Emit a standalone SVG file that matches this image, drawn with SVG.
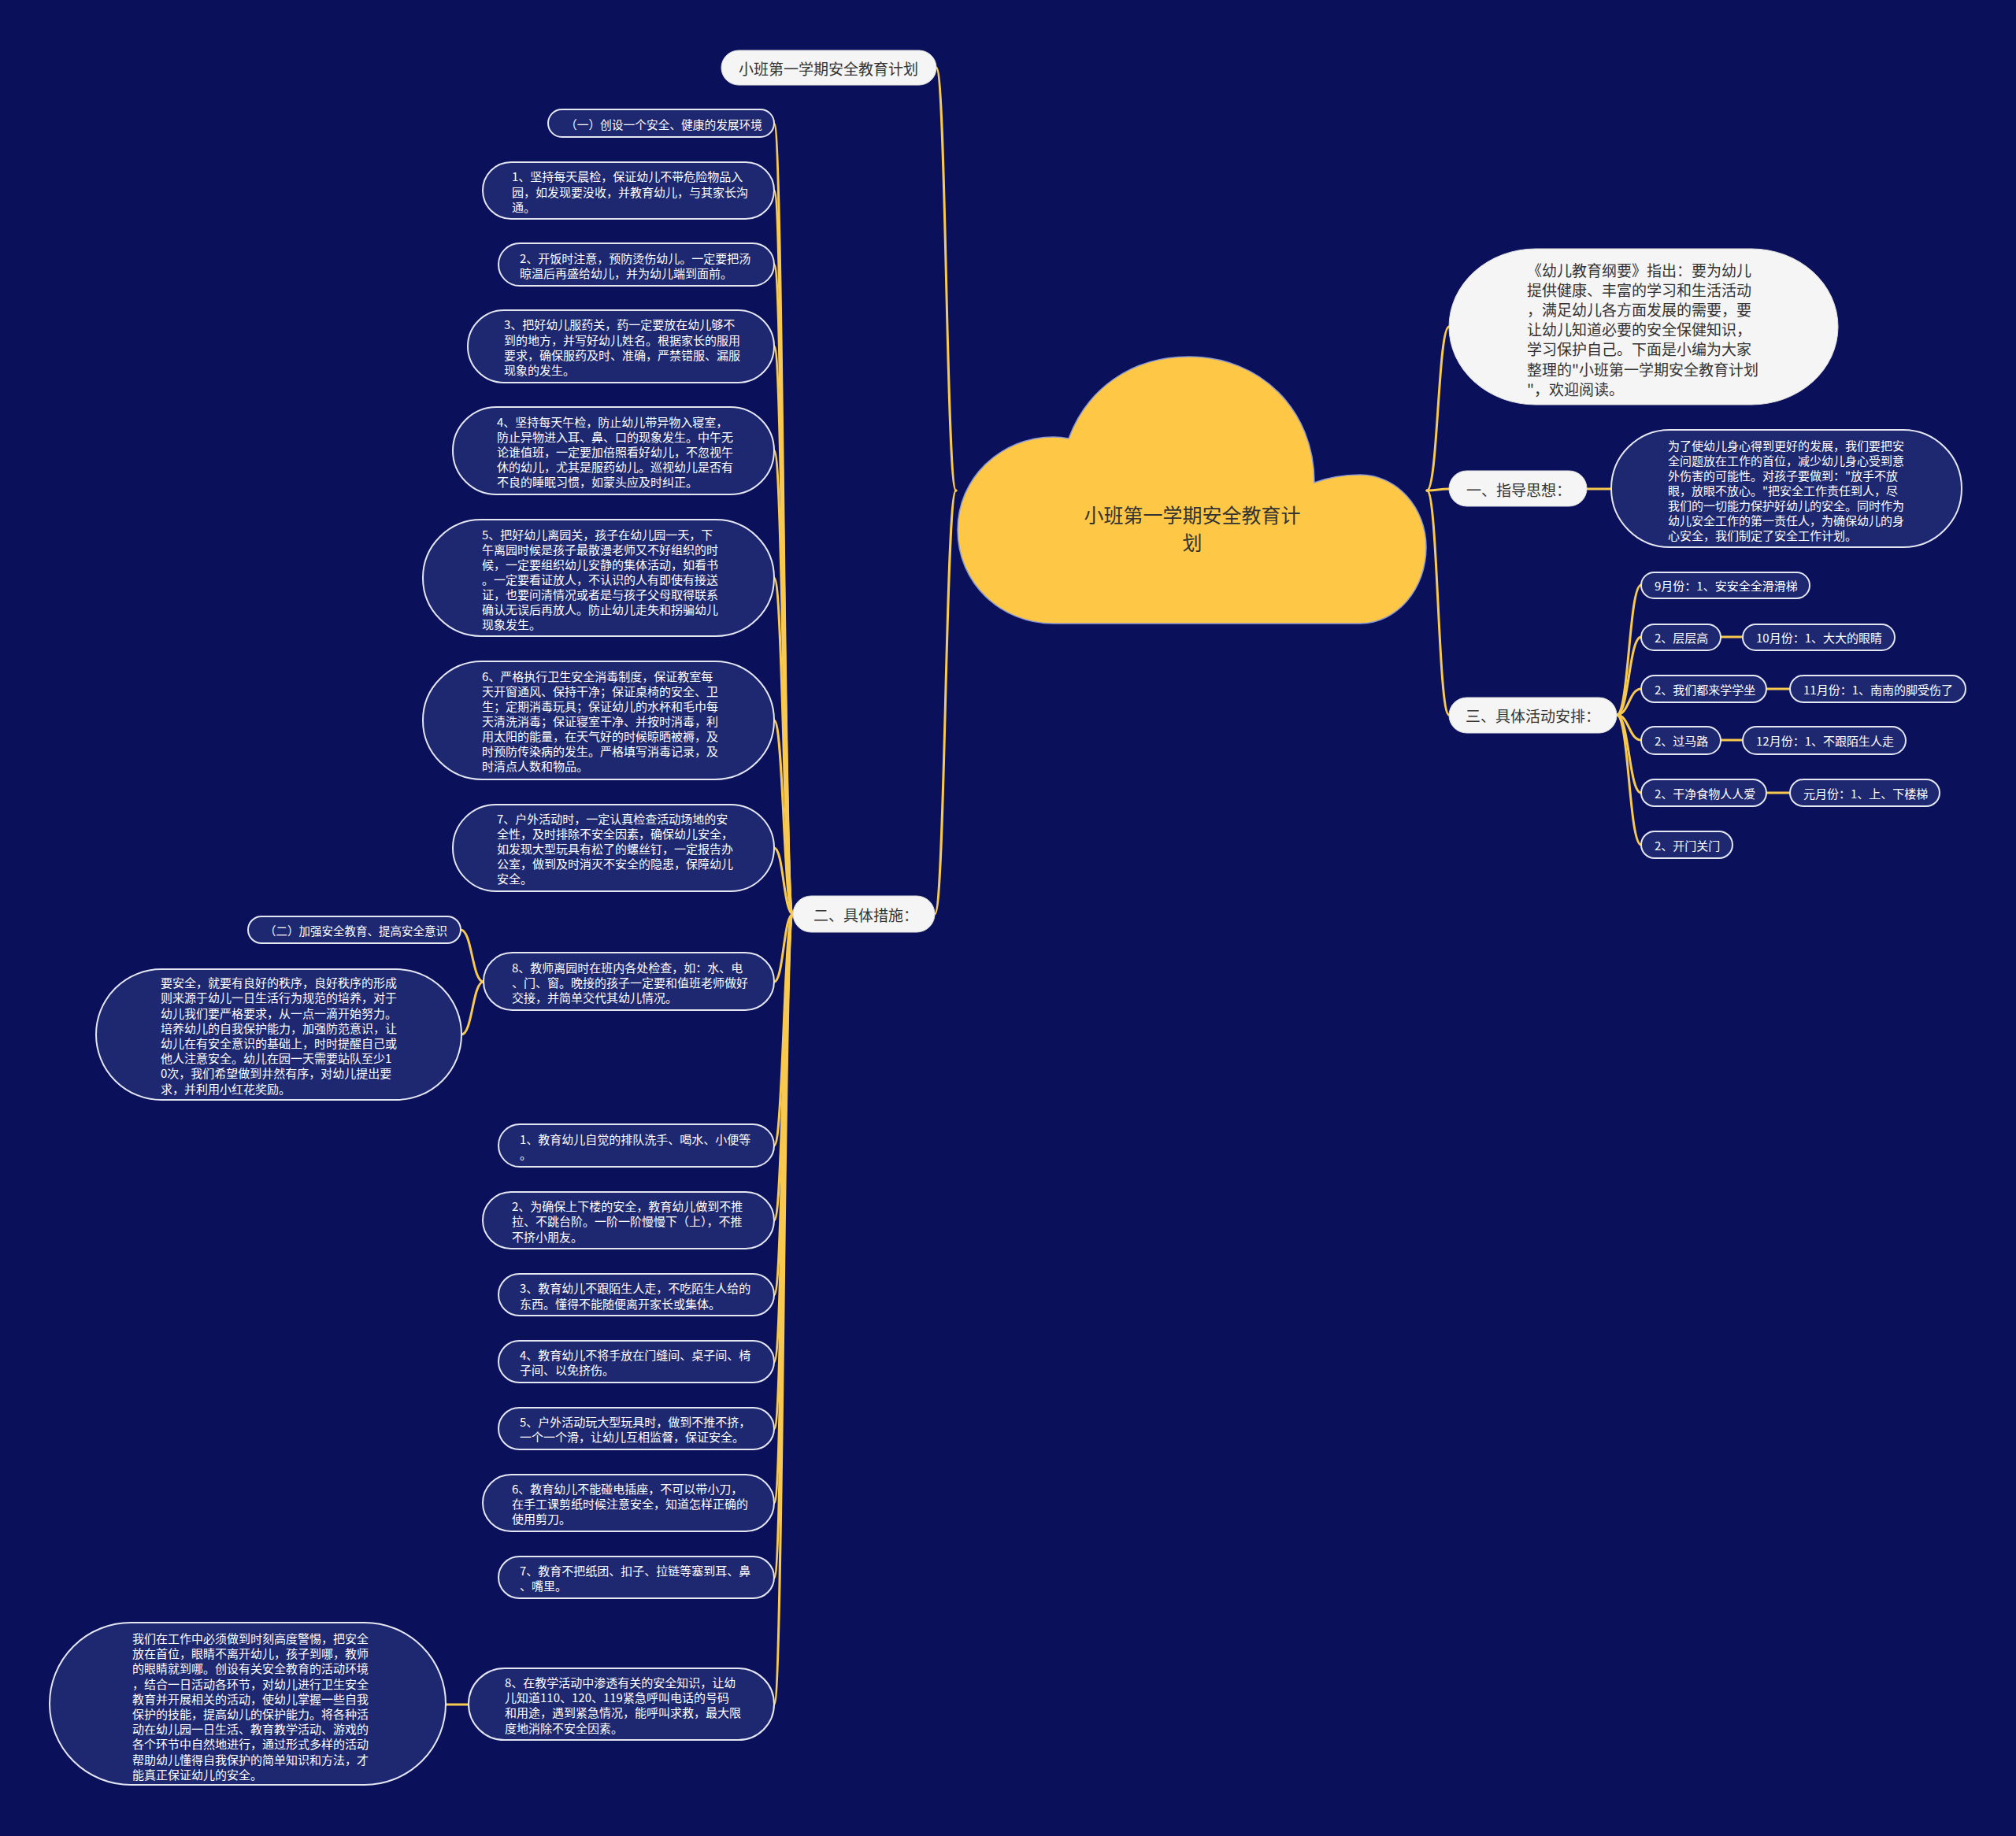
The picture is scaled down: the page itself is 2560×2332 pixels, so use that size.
<svg xmlns="http://www.w3.org/2000/svg" width="2560" height="2332" viewBox="0 0 2560 2332">
<style>
.bg{fill:#0A105A}
.dk{fill:#1E2870;stroke:#E4E6F2;stroke-width:2}
.lt{fill:#F5F5F5;stroke:#E0E0E0;stroke-width:1}
.tw{fill:#FFFFFF;font-size:15px;font-family:"Noto Sans CJK SC","Liberation Sans",sans-serif;dominant-baseline:central}
.tb{fill:#333333;font-size:19px;font-family:"Noto Sans CJK SC","Liberation Sans",sans-serif;dominant-baseline:central}
.tc{fill:#333333;font-size:25px;font-family:"Noto Sans CJK SC","Liberation Sans",sans-serif;dominant-baseline:central;text-anchor:middle}
.cn{fill:none;stroke:#F8C94F;stroke-width:3;stroke-linecap:round}
</style>
<rect class="bg" x="0" y="0" width="2560" height="2332"/>

<g id="connectors">
<path class="cn" d="M1214 623 C1201.5 623 1201.5 86 1189 86"/>
<path class="cn" d="M1214 623 C1200.5 623 1200.5 1161 1187 1161"/>
<path class="cn" d="M1007 1161 C995 1161 995 157 983 157"/>
<path class="cn" d="M1007 1161 C995 1161 995 242 983 242"/>
<path class="cn" d="M1007 1161 C995 1161 995 336 983 336"/>
<path class="cn" d="M1007 1161 C995 1161 995 440 983 440"/>
<path class="cn" d="M1007 1161 C995 1161 995 572 983 572"/>
<path class="cn" d="M1007 1161 C995 1161 995 734 983 734"/>
<path class="cn" d="M1007 1161 C995 1161 995 915 983 915"/>
<path class="cn" d="M1007 1161 C995 1161 995 1077 983 1077"/>
<path class="cn" d="M1007 1161 C995 1161 995 1247 983 1247"/>
<path class="cn" d="M1007 1161 C995 1161 995 1455 983 1455"/>
<path class="cn" d="M1007 1161 C995 1161 995 1550 983 1550"/>
<path class="cn" d="M1007 1161 C995 1161 995 1645 983 1645"/>
<path class="cn" d="M1007 1161 C995 1161 995 1730 983 1730"/>
<path class="cn" d="M1007 1161 C995 1161 995 1815 983 1815"/>
<path class="cn" d="M1007 1161 C995 1161 995 1909 983 1909"/>
<path class="cn" d="M1007 1161 C995 1161 995 2004 983 2004"/>
<path class="cn" d="M1007 1161 C995 1161 995 2165 983 2165"/>
<path class="cn" d="M614 1247 C599.5 1247 599.5 1181 585 1181"/>
<path class="cn" d="M614 1247 C600 1247 600 1314 586 1314"/>
<path class="cn" d="M595 2165 L566 2165"/>
<path class="cn" d="M1812 623 C1826 623 1826 415 1840 415"/>
<path class="cn" d="M1812 623 C1826 623 1826 621 1840 621"/>
<path class="cn" d="M1812 623 C1826 623 1826 908 1840 908"/>
<path class="cn" d="M2015 621 L2046 621"/>
<path class="cn" d="M2053 908 C2068.5 908 2068.5 743 2084 743"/>
<path class="cn" d="M2053 908 C2068.5 908 2068.5 809 2084 809"/>
<path class="cn" d="M2053 908 C2068.5 908 2068.5 875 2084 875"/>
<path class="cn" d="M2053 908 C2068.5 908 2068.5 940 2084 940"/>
<path class="cn" d="M2053 908 C2068.5 908 2068.5 1007 2084 1007"/>
<path class="cn" d="M2053 908 C2068.5 908 2068.5 1073 2084 1073"/>
<path class="cn" d="M2185 809 L2213 809"/>
<path class="cn" d="M2243 875 L2273 875"/>
<path class="cn" d="M2185 940 L2213 940"/>
<path class="cn" d="M2243 1007 L2273 1007"/>
</g>

<g id="root">
<path d="M1338 792 C1270 792 1216 740 1216 673 C1216 608 1270 555 1338 555 C1345 555 1352 556 1357 557 C1380 495 1435 453 1510 453 C1600 453 1669 520 1669 613 C1688 606 1707 603 1727 603 C1774 603 1811 645 1811 695 C1811 748 1774 792 1727 792 Z" fill="#FEC746" stroke="#8C9AD0" stroke-width="1.5"/>
<text class="tc"><tspan x="1514" y="653">小班第一学期安全教育计</tspan><tspan x="1514" y="688">划</tspan></text>
</g>

<g id="n-title">
<rect class="lt" x="916" y="64" width="273" height="44" rx="22"/>
<text class="tb" x="938" y="86">小班第一学期安全教育计划</text>
</g>

<g id="n-er">
<rect class="lt" x="1007" y="1138" width="180" height="46" rx="23"/>
<text class="tb" x="1033" y="1161">二、具体措施：</text>
</g>

<g id="c0">
<rect class="dk" x="696" y="139" width="287" height="35" rx="17.5"/>
<text class="tw" x="718" y="157" textLength="250" lengthAdjust="spacingAndGlyphs">（一）创设一个安全、健康的发展环境</text>
</g>

<g id="c1">
<rect class="dk" x="613" y="206" width="370" height="72" rx="36"/>
<text class="tw"><tspan x="650" y="223">1、坚持每天晨检，保证幼儿不带危险物品入</tspan><tspan x="650" y="242.5">园，如发现要没收，并教育幼儿，与其家长沟</tspan><tspan x="650" y="262">通。</tspan></text>
</g>

<g id="c2">
<rect class="dk" x="633" y="309" width="350" height="54" rx="27"/>
<text class="tw"><tspan x="660" y="327">2、开饭时注意，预防烫伤幼儿。一定要把汤</tspan><tspan x="660" y="346">晾温后再盛给幼儿，并为幼儿端到面前。</tspan></text>
</g>

<g id="c3">
<rect class="dk" x="594" y="394" width="389" height="92" rx="46"/>
<text class="tw"><tspan x="640" y="411">3、把好幼儿服药关，药一定要放在幼儿够不</tspan><tspan x="640" y="430.5">到的地方，并写好幼儿姓名。根据家长的服用</tspan><tspan x="640" y="450">要求，确保服药及时、准确，严禁错服、漏服</tspan><tspan x="640" y="469">现象的发生。</tspan></text>
</g>

<g id="c4">
<rect class="dk" x="575" y="517" width="408" height="111" rx="55.5"/>
<text class="tw"><tspan x="631" y="535">4、坚持每天午检，防止幼儿带异物入寝室，</tspan><tspan x="631" y="554">防止异物进入耳、鼻、口的现象发生。中午无</tspan><tspan x="631" y="573">论谁值班，一定要加倍照看好幼儿，不忽视午</tspan><tspan x="631" y="592">休的幼儿，尤其是服药幼儿。巡视幼儿是否有</tspan><tspan x="631" y="611">不良的睡眠习惯，如蒙头应及时纠正。</tspan></text>
</g>

<g id="c5">
<rect class="dk" x="537" y="660" width="446" height="148" rx="74"/>
<text class="tw"><tspan x="612" y="678">5、把好幼儿离园关，孩子在幼儿园一天，下</tspan><tspan x="612" y="697">午离园时候是孩子最散漫老师又不好组织的时</tspan><tspan x="612" y="716">候，一定要组织幼儿安静的集体活动，如看书</tspan><tspan x="612" y="735">。一定要看证放人，不认识的人有即使有接送</tspan><tspan x="612" y="754">证，也要问清情况或者是与孩子父母取得联系</tspan><tspan x="612" y="773">确认无误后再放人。防止幼儿走失和拐骗幼儿</tspan><tspan x="612" y="792">现象发生。</tspan></text>
</g>

<g id="c6">
<rect class="dk" x="537" y="840" width="446" height="150" rx="75"/>
<text class="tw"><tspan x="612" y="858">6、严格执行卫生安全消毒制度，保证教室每</tspan><tspan x="612" y="877">天开窗通风、保持干净；保证桌椅的安全、卫</tspan><tspan x="612" y="896">生；定期消毒玩具；保证幼儿的水杯和毛巾每</tspan><tspan x="612" y="915">天清洗消毒；保证寝室干净、并按时消毒，利</tspan><tspan x="612" y="934">用太阳的能量，在天气好的时候晾晒被褥，及</tspan><tspan x="612" y="953">时预防传染病的发生。严格填写消毒记录，及</tspan><tspan x="612" y="972">时清点人数和物品。</tspan></text>
</g>

<g id="c7">
<rect class="dk" x="575" y="1022" width="408" height="110" rx="55"/>
<text class="tw"><tspan x="631" y="1039">7、户外活动时，一定认真检查活动场地的安</tspan><tspan x="631" y="1058">全性，及时排除不安全因素，确保幼儿安全，</tspan><tspan x="631" y="1077">如发现大型玩具有松了的螺丝钉，一定报告办</tspan><tspan x="631" y="1096">公室，做到及时消灭不安全的隐患，保障幼儿</tspan><tspan x="631" y="1115">安全。</tspan></text>
</g>

<g id="c8">
<rect class="dk" x="614" y="1210" width="369" height="73" rx="36.5"/>
<text class="tw"><tspan x="650" y="1228">8、教师离园时在班内各处检查，如：水、电</tspan><tspan x="650" y="1247">、门、窗。晚接的孩子一定要和值班老师做好</tspan><tspan x="650" y="1266">交接，并简单交代其幼儿情况。</tspan></text>
</g>

<g id="c8a">
<rect class="dk" x="315" y="1164" width="270" height="34" rx="17"/>
<text class="tw" x="336" y="1181" textLength="232" lengthAdjust="spacingAndGlyphs">（二）加强安全教育、提高安全意识</text>
</g>

<g id="c8b">
<rect class="dk" x="122" y="1231" width="464" height="166" rx="83"/>
<text class="tw"><tspan x="204" y="1247">要安全，就要有良好的秩序，良好秩序的形成</tspan><tspan x="204" y="1266">则来源于幼儿一日生活行为规范的培养，对于</tspan><tspan x="204" y="1286">幼儿我们要严格要求，从一点一滴开始努力。</tspan><tspan x="204" y="1305">培养幼儿的自我保护能力，加强防范意识，让</tspan><tspan x="204" y="1324">幼儿在有安全意识的基础上，时时提醒自己或</tspan><tspan x="204" y="1343">他人注意安全。幼儿在园一天需要站队至少1</tspan><tspan x="204" y="1362">0次，我们希望做到井然有序，对幼儿提出要</tspan><tspan x="204" y="1382">求，并利用小红花奖励。</tspan></text>
</g>

<g id="d1">
<rect class="dk" x="633" y="1428" width="350" height="54" rx="27"/>
<text class="tw"><tspan x="660" y="1446">1、教育幼儿自觉的排队洗手、喝水、小便等</tspan><tspan x="660" y="1465">。</tspan></text>
</g>

<g id="d2">
<rect class="dk" x="613" y="1514" width="370" height="72" rx="36"/>
<text class="tw"><tspan x="650" y="1531">2、为确保上下楼的安全，教育幼儿做到不推</tspan><tspan x="650" y="1550">拉、不跳台阶。一阶一阶慢慢下（上），不推</tspan><tspan x="650" y="1570">不挤小朋友。</tspan></text>
</g>

<g id="d3">
<rect class="dk" x="633" y="1618" width="350" height="53" rx="26.5"/>
<text class="tw"><tspan x="660" y="1635">3、教育幼儿不跟陌生人走，不吃陌生人给的</tspan><tspan x="660" y="1655">东西。懂得不能随便离开家长或集体。</tspan></text>
</g>

<g id="d4">
<rect class="dk" x="633" y="1703" width="350" height="53" rx="26.5"/>
<text class="tw"><tspan x="660" y="1720">4、教育幼儿不将手放在门缝间、桌子间、椅</tspan><tspan x="660" y="1739">子间、以免挤伤。</tspan></text>
</g>

<g id="d5">
<rect class="dk" x="633" y="1788" width="350" height="53" rx="26.5"/>
<text class="tw"><tspan x="660" y="1805">5、户外活动玩大型玩具时，做到不推不挤，</tspan><tspan x="660" y="1824">一个一个滑，让幼儿互相监督，保证安全。</tspan></text>
</g>

<g id="d6">
<rect class="dk" x="613" y="1873" width="370" height="72" rx="36"/>
<text class="tw"><tspan x="650" y="1890">6、教育幼儿不能碰电插座，不可以带小刀，</tspan><tspan x="650" y="1909">在手工课剪纸时候注意安全，知道怎样正确的</tspan><tspan x="650" y="1928">使用剪刀。</tspan></text>
</g>

<g id="d7">
<rect class="dk" x="633" y="1977" width="350" height="53" rx="26.5"/>
<text class="tw"><tspan x="660" y="1994">7、教育不把纸团、扣子、拉链等塞到耳、鼻</tspan><tspan x="660" y="2013">、嘴里。</tspan></text>
</g>

<g id="d8">
<rect class="dk" x="595" y="2119" width="388" height="91" rx="45.5"/>
<text class="tw"><tspan x="641" y="2136">8、在教学活动中渗透有关的安全知识，让幼</tspan><tspan x="641" y="2155">儿知道110、120、119紧急呼叫电话的号码</tspan><tspan x="641" y="2174">和用途，遇到紧急情况，能呼叫求救，最大限</tspan><tspan x="641" y="2194">度地消除不安全因素。</tspan></text>
</g>

<g id="d8a">
<rect class="dk" x="63" y="2061" width="503" height="206" rx="103"/>
<text class="tw"><tspan x="168" y="2080">我们在工作中必须做到时刻高度警惕，把安全</tspan><tspan x="168" y="2099">放在首位，眼睛不离开幼儿，孩子到哪，教师</tspan><tspan x="168" y="2118">的眼睛就到哪。创设有关安全教育的活动环境</tspan><tspan x="168" y="2138">，结合一日活动各环节，对幼儿进行卫生安全</tspan><tspan x="168" y="2157">教育并开展相关的活动，使幼儿掌握一些自我</tspan><tspan x="168" y="2176">保护的技能，提高幼儿的保护能力。将各种活</tspan><tspan x="168" y="2195">动在幼儿园一日生活、教育教学活动、游戏的</tspan><tspan x="168" y="2214">各个环节中自然地进行，通过形式多样的活动</tspan><tspan x="168" y="2234">帮助幼儿懂得自我保护的简单知识和方法，才</tspan><tspan x="168" y="2253">能真正保证幼儿的安全。</tspan></text>
</g>

<g id="n-intro">
<rect class="lt" x="1840" y="316" width="494" height="198" rx="110" ry="99"/>
<text class="tb"><tspan x="1939" y="342">《幼儿教育纲要》指出：要为幼儿</tspan><tspan x="1939" y="367">提供健康、丰富的学习和生活活动</tspan><tspan x="1939" y="392">，满足幼儿各方面发展的需要，要</tspan><tspan x="1939" y="417">让幼儿知道必要的安全保健知识，</tspan><tspan x="1939" y="442">学习保护自己。下面是小编为大家</tspan><tspan x="1939" y="468">整理的"小班第一学期安全教育计划</tspan><tspan x="1939" y="493">"，欢迎阅读。</tspan></text>
</g>

<g id="n-yi">
<rect class="lt" x="1840" y="598" width="175" height="45" rx="22.5"/>
<text class="tb" x="1862" y="621">一、指导思想：</text>
</g>

<g id="n-yi-1">
<rect class="dk" x="2046" y="546" width="445" height="149" rx="74.5"/>
<text class="tw"><tspan x="2118" y="565">为了使幼儿身心得到更好的发展，我们要把安</tspan><tspan x="2118" y="584">全问题放在工作的首位，减少幼儿身心受到意</tspan><tspan x="2118" y="603">外伤害的可能性。对孩子要做到："放手不放</tspan><tspan x="2118" y="622">眼，放眼不放心。"把安全工作责任到人，尽</tspan><tspan x="2118" y="641">我们的一切能力保护好幼儿的安全。同时作为</tspan><tspan x="2118" y="660">幼儿安全工作的第一责任人，为确保幼儿的身</tspan><tspan x="2118" y="679">心安全，我们制定了安全工作计划。</tspan></text>
</g>

<g id="n-san">
<rect class="lt" x="1840" y="886" width="213" height="45" rx="22.5"/>
<text class="tb" x="1861" y="908">三、具体活动安排：</text>
</g>

<g id="m1">
<rect class="dk" x="2084" y="727" width="214" height="33" rx="16.5"/>
<text class="tw" x="2101" y="743">9月份：1、安安全全滑滑梯</text>
</g>
<g id="m2">
<rect class="dk" x="2084" y="793" width="101" height="33" rx="16.5"/>
<text class="tw" x="2101" y="809">2、层层高</text>
</g>
<g id="m2b">
<rect class="dk" x="2213" y="793" width="193" height="33" rx="16.5"/>
<text class="tw" x="2230" y="809">10月份：1、大大的眼睛</text>
</g>
<g id="m3">
<rect class="dk" x="2084" y="858" width="159" height="34" rx="17"/>
<text class="tw" x="2101" y="875">2、我们都来学学坐</text>
</g>
<g id="m3b">
<rect class="dk" x="2273" y="858" width="223" height="34" rx="17"/>
<text class="tw" x="2290" y="875">11月份：1、南南的脚受伤了</text>
</g>
<g id="m4">
<rect class="dk" x="2084" y="923" width="101" height="35" rx="17.5"/>
<text class="tw" x="2101" y="940">2、过马路</text>
</g>
<g id="m4b">
<rect class="dk" x="2213" y="923" width="207" height="35" rx="17.5"/>
<text class="tw" x="2230" y="940">12月份：1、不跟陌生人走</text>
</g>
<g id="m5">
<rect class="dk" x="2084" y="990" width="159" height="34" rx="17"/>
<text class="tw" x="2101" y="1007">2、干净食物人人爱</text>
</g>
<g id="m5b">
<rect class="dk" x="2273" y="990" width="190" height="34" rx="17"/>
<text class="tw" x="2290" y="1007">元月份：1、上、下楼梯</text>
</g>
<g id="m6">
<rect class="dk" x="2084" y="1056" width="116" height="34" rx="17"/>
<text class="tw" x="2101" y="1073">2、开门关门</text>
</g>
</svg>
